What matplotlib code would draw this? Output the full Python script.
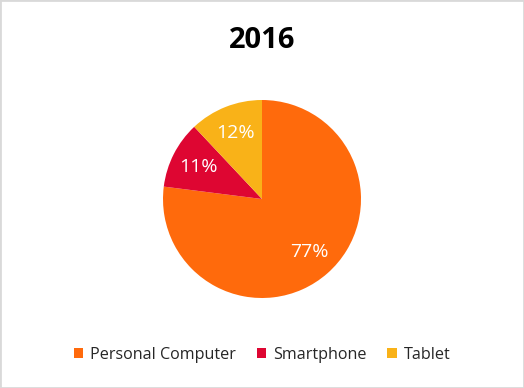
import matplotlib.pyplot as plt
from matplotlib.patches import Rectangle

categories = ["Personal Computer", "Smartphone", "Tablet"]
shares = [77, 11, 12]
colors = ["#FF6A0C", "#DE0632", "#F9B218"]

W, H = 524, 388
fig = plt.figure(figsize=(W / 100, H / 100), dpi=100)
plt.rcParams["font.family"] = ["Open Sans", "DejaVu Sans"]

# light grey chart border
fig.patches.append(Rectangle((0, 0), 1, 1, transform=fig.transFigure,
                             fill=False, edgecolor="#D9D9D9", linewidth=2))

# pie axes: centre (262, 199), radius 99 px
cx, cy, r = 262, 199, 99
ax = fig.add_axes([(cx - r) / W, (H - cy - r) / H, 2 * r / W, 2 * r / H])
wedges, texts, autotexts = ax.pie(
    shares, colors=colors, startangle=90, counterclock=False,
    autopct="%d%%", pctdistance=0.72, radius=1,
    wedgeprops=dict(linewidth=0),
    textprops=dict(color="white", fontsize=14))
ax.set_xlim(-1, 1)
ax.set_ylim(-1, 1)
ax.set_aspect("equal")
ax.axis("off")

fig.text(0.5, 1 - 40 / H, "2016", ha="center", va="center",
         fontsize=21, fontweight="bold", color="black")

fig.legend(wedges, categories, loc="center", bbox_to_anchor=(0.5, 1 - 355 / H),
           ncol=3, frameon=False, fontsize=11.6, handlelength=0.6, handleheight=0.6,
           handletextpad=0.4, columnspacing=1.3, labelcolor="#262626")

fig.savefig("out.png", dpi=100)
